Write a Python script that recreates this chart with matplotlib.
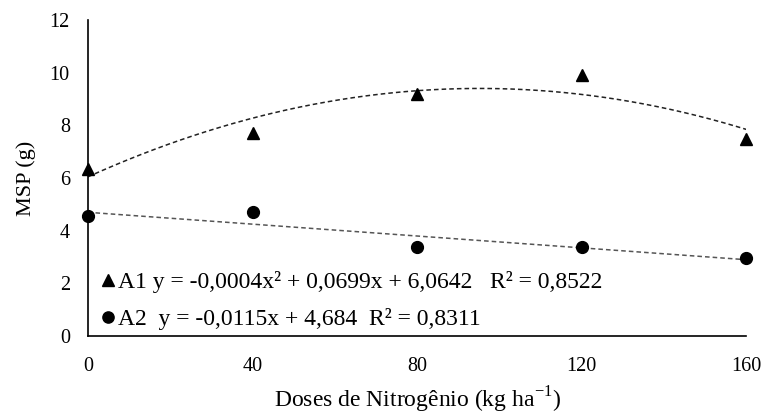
import numpy as np
import matplotlib.pyplot as plt

plt.rcParams['font.family'] = ['Liberation Serif', 'DejaVu Serif']
plt.rcParams['mathtext.fontset'] = 'custom'
plt.rcParams['mathtext.rm'] = 'Liberation Serif'

doses = [0, 40, 80, 120, 160]
a1 = [6.35, 7.7, 9.2, 9.9, 7.5]
a2 = [4.55, 4.7, 3.4, 3.4, 2.95]
lab_a1 = "A1 y = -0,0004x² + 0,0699x + 6,0642   R² = 0,8522"
lab_a2 = "A2  y = -0,0115x + 4,684  R² = 0,8311"

fig = plt.figure(figsize=(7.64, 4.16), dpi=100)
ax = fig.add_axes([0.115, 0.192, 0.862, 0.76])

xs = np.linspace(0, 160, 200)
c1 = np.polyfit(doses, a1, 2)
c2 = np.polyfit(doses, a2, 1)
ax.plot(xs, np.polyval(c1, xs), ls=(0, (3, 2)), color="#222222", lw=1.1)
ax.plot(xs, np.polyval(c2, xs), ls=(0, (3, 2)), color="#555555", lw=1.1)

h1, = ax.plot(doses, a1, "^", color="black", ms=8.5, ls="none", clip_on=False, zorder=5)
h2, = ax.plot(doses, a2, "o", color="black", ms=8.5, ls="none", clip_on=False, zorder=5)

leg = ax.legend([h1, h2], [lab_a1, lab_a2], loc="lower left", frameon=False,
                fontsize=17, handlelength=0.5, handletextpad=0.15,
                labelspacing=0.65, borderaxespad=0.0, bbox_to_anchor=(0.008, -0.012),
                markerscale=0.95)

ax.set_xlim(0, 160)
ax.set_ylim(0, 12)
ax.set_xticks([0, 40, 80, 120, 160])
ax.set_yticks(range(0, 13, 2))
ax.tick_params(length=0, labelsize=14.5)
ax.tick_params(axis="x", pad=15)
ax.tick_params(axis="y", pad=13)
ax.spines["top"].set_visible(False)
ax.spines["right"].set_visible(False)
ax.spines["left"].set_linewidth(1.2)
ax.spines["bottom"].set_linewidth(1.2)
ax.set_xlabel("Doses de Nitrogênio (kg ha$^{\\mathrm{-1}}$)", fontsize=17, labelpad=6)
ax.set_ylabel("MSP (g)", fontsize=16, labelpad=10)

fig.savefig("out.png", dpi=100)
